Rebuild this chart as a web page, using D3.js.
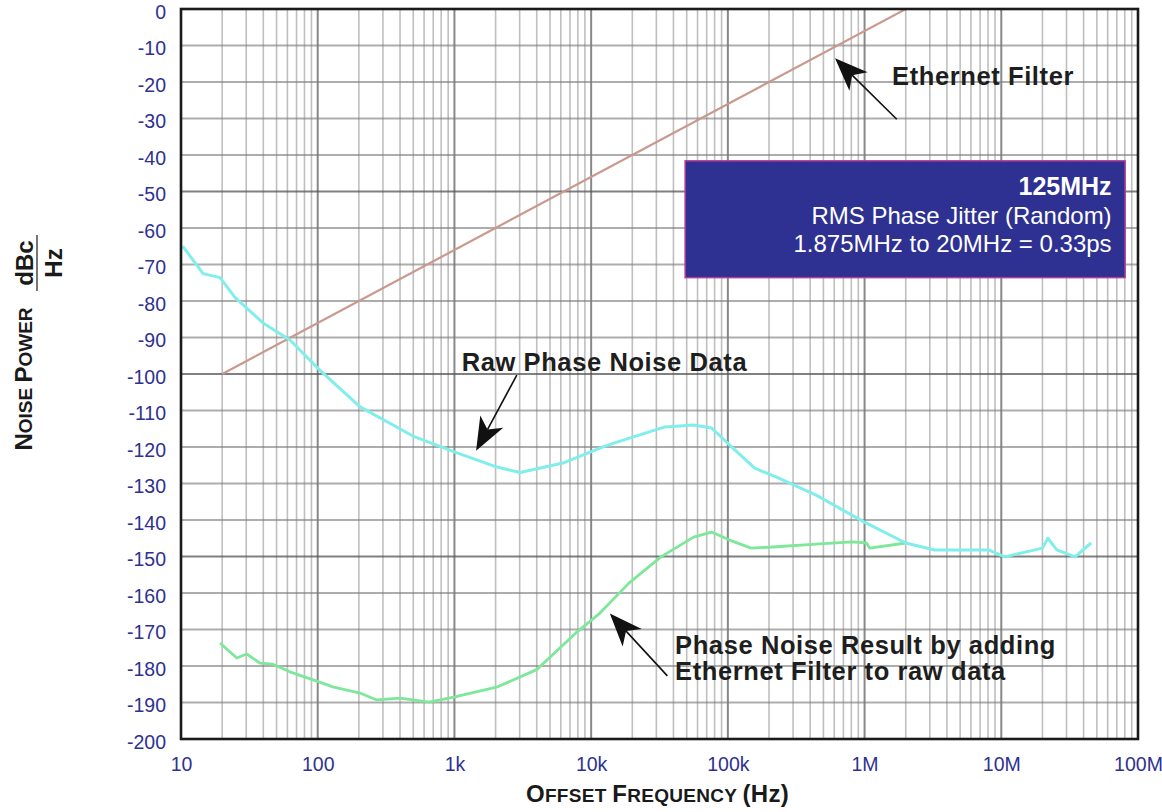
<!DOCTYPE html>
<html>
<head>
<meta charset="utf-8">
<script src="https://cdn.jsdelivr.net/npm/d3@7/dist/d3.min.js"></script>
<style>
    html, body { margin: 0; padding: 0; background: #fff; }
    svg { display: block; font-family: "Liberation Sans", Arial, Helvetica, sans-serif; }
</style>
</head>
<body>
<div id="chart"></div>
<script>
"use strict";

// raw phase noise (cyan)
const rawFreq = [10.3, 14.5, 19.3, 24.8, 39.8, 62.7, 104, 204, 497, 1045, 2049, 3020, 6220,
                 11600, 14450, 34700, 56100, 76000, 109000, 157000, 225000, 442000, 991000,
                 2.0e6, 3.25e6, 8.07e6, 10.6e6, 20e6, 21.9e6, 25.5e6, 34.6e6, 45.4e6];
const rawDb = [-65, -72.5, -73.6, -79, -86, -90.7, -99, -109, -117, -121.6, -125.5, -127, -124.4,
               -120.3, -119, -114.5, -114, -114.8, -120.3, -125.8, -128.2, -133.2, -140.5,
               -146.3, -148.2, -148.2, -150.1, -147.7, -145, -148.2, -150.1, -146.3];

// result after adding ethernet filter (green)
const resultFreq = [19.3, 25.6, 30.2, 37.8, 47, 62.6, 92.6, 129, 204, 270, 400, 651, 988, 2070,
                    3990, 7700, 11600, 18900, 32400, 56100, 76000, 103000, 148000, 213000,
                    440000, 807000, 1.03e6, 1.09e6, 2.0e6];
const resultDb = [-173.7, -177.8, -176.7, -179.2, -179.5, -181.6, -183.8, -185.7, -187.4, -189.3,
                  -188.8, -189.9, -188.5, -185.7, -181, -171, -165.5, -157.3, -150.1, -144.7,
                  -143.3, -145.5, -147.7, -147.4, -146.6, -146, -146.3, -147.7, -146.3];

// ethernet filter mask
const filterFreq = [20, 2e6, 2.2e7];
const filterDb = [-100, 0, 0];

const xTickValues = [10, 100, 1e3, 1e4, 1e5, 1e6, 1e7, 1e8];
const xTickLabels = ["10", "100", "1k", "10k", "100k", "1M", "10M", "100M"];
const yTickValues = [0, -10, -20, -30, -40, -50, -60, -70, -80, -90, -100, -110, -120, -130,
                     -140, -150, -160, -170, -180, -190, -200];
const yTickLabels = yTickValues.map(String);

// annotations, in data units: [freq, dB]
const notes = [
    {lines: ["Ethernet Filter"], at: [1.59e6, -20.8], tip: [6.08e5, -13.5], tail: [1.72e6, -30.2]},
    {lines: ["Raw Phase Noise Data"], at: [1130, -99.1], tip: [1440, -121], tail: [2860, -100.3]},
    {lines: ["Phase Noise Result by adding", "Ethernet Filter to raw data"], at: [41100, -176.8],
     tip: [13700, -165.6], tail: [36100, -182.7]}
];
const boxLines = ["125MHz", "RMS Phase Jitter (Random)", "1.875MHz to 20MHz = 0.33ps"];
const boxCorners = [[48700, -41.6], [80.5e6, -73.6]];

const drawChart = () => {
    const W = 1162, H = 812;
    const margin = {top: 9, right: 24, bottom: 73, left: 181};
    const blue = "#2e3192";

    const x = d3.scaleLog().domain([10, 1e8]).range([margin.left, W - margin.right]);
    const y = d3.scaleLinear().domain([-200, 0]).range([H - margin.bottom, margin.top]);

    const svg = d3.select("#chart").append("svg")
                  .attr("width", W)
                  .attr("height", H);

    // grid
    const minorX = [];
    for (let d = 10; d < 1e8; d *= 10) {
        for (let k = 2; k <= 9; k++) minorX.push(d * k);
    }
    const grid = svg.append("g").attr("class", "grid");
    grid.selectAll("line.vminor").data(minorX).enter().append("line")
        .attr("x1", d => x(d)).attr("x2", d => x(d))
        .attr("y1", y(0)).attr("y2", y(-200))
        .attr("stroke", "#8a8a8a").attr("stroke-opacity", 0.55).attr("stroke-width", 1.6);
    grid.selectAll("line.vmajor").data(xTickValues).enter().append("line")
        .attr("x1", d => x(d)).attr("x2", d => x(d))
        .attr("y1", y(0)).attr("y2", y(-200))
        .attr("stroke", "#555").attr("stroke-opacity", 0.7).attr("stroke-width", 2);
    grid.selectAll("line.h").data(yTickValues).enter().append("line")
        .attr("x1", x(10)).attr("x2", x(1e8))
        .attr("y1", d => y(d)).attr("y2", d => y(d))
        .attr("stroke", d => d % 50 === 0 ? "#555" : "#7a7a7a")
        .attr("stroke-opacity", d => d % 50 === 0 ? 0.75 : 0.62)
        .attr("stroke-width", 1.8);

    // series
    const line = d3.line().x(d => x(d[0])).y(d => y(d[1]));
    const zip = (a, b) => a.map((v, i) => [v, b[i]]);

    svg.append("path").datum(zip(filterFreq, filterDb))
       .attr("d", line).attr("fill", "none")
       .attr("stroke", "#c9998d").attr("stroke-width", 2.2);
    svg.append("path").datum(zip(resultFreq, resultDb))
       .attr("d", line).attr("fill", "none")
       .attr("stroke", "#7de79a").attr("stroke-width", 2.8).attr("stroke-linejoin", "round");
    svg.append("path").datum(zip(rawFreq, rawDb))
       .attr("d", line).attr("fill", "none")
       .attr("stroke", "#80eeea").attr("stroke-width", 3).attr("stroke-linejoin", "round");

    // frame
    svg.append("rect")
       .attr("x", x(10)).attr("y", y(0))
       .attr("width", x(1e8) - x(10)).attr("height", y(-200) - y(0))
       .attr("fill", "none").attr("stroke", "#1a1a1a").attr("stroke-width", 2.6);

    // axes
    const yAxis = svg.append("g")
                     .attr("transform", `translate(${margin.left}, 3)`)
                     .call(d3.axisLeft(y).tickValues(yTickValues)
                             .tickFormat((d, i) => yTickLabels[i])
                             .tickSize(0).tickPadding(15));
    yAxis.select(".domain").remove();
    yAxis.selectAll("text")
         .attr("fill", blue).attr("font-size", 19.5)
         .attr("font-family", "Liberation Sans, Arial, sans-serif");

    const xAxis = svg.append("g")
                     .attr("transform", `translate(0, ${H - margin.bottom})`)
                     .call(d3.axisBottom(x).tickValues(xTickValues)
                             .tickFormat((d, i) => xTickLabels[i])
                             .tickSize(0).tickPadding(18));
    xAxis.select(".domain").remove();
    xAxis.selectAll("text")
         .attr("fill", blue).attr("font-size", 19.5)
         .attr("font-family", "Liberation Sans, Arial, sans-serif");

    // axis titles in small caps
    const smallCaps = (sel, parts) => {
        parts.forEach(p => {
            sel.append("tspan").attr("font-size", p[1]).text(p[0]);
        });
    };
    const xt = svg.append("text")
                  .attr("x", (x(10) + x(1e8)) / 2 - 2).attr("y", 802)
                  .attr("text-anchor", "middle").attr("font-weight", "bold").attr("fill", "#1a1a1a")
                  .attr("letter-spacing", 0.3);
    smallCaps(xt, [["O", 24], ["FFSET ", 19], ["F", 24], ["REQUENCY ", 19], ["(Hz)", 24]]);

    const yt = svg.append("text")
                  .attr("transform", "translate(32, 379) rotate(-90)")
                  .attr("text-anchor", "middle").attr("font-weight", "bold").attr("fill", "#1a1a1a");
    smallCaps(yt, [["N", 24], ["OISE ", 19], ["P", 24], ["OWER", 19]]);

    svg.append("text").attr("transform", "translate(33, 263) rotate(-90)")
       .attr("text-anchor", "middle").attr("font-weight", "bold").attr("font-size", 24)
       .attr("fill", "#1a1a1a").text("dBc");
    svg.append("line").attr("x1", 37).attr("x2", 37).attr("y1", 235).attr("y2", 291)
       .attr("stroke", "#1a1a1a").attr("stroke-width", 1.2);
    svg.append("text").attr("transform", "translate(61.5, 263) rotate(-90)")
       .attr("text-anchor", "middle").attr("font-weight", "bold").attr("font-size", 24)
       .attr("fill", "#1a1a1a").text("Hz");

    // jitter box
    const bx0 = x(boxCorners[0][0]), by0 = y(boxCorners[0][1]);
    const bx1 = x(boxCorners[1][0]), by1 = y(boxCorners[1][1]);
    svg.append("rect")
       .attr("x", bx0).attr("y", by0).attr("width", bx1 - bx0).attr("height", by1 - by0)
       .attr("fill", blue).attr("stroke", "#b23c92").attr("stroke-width", 1.5);
    const boxText = svg.append("g").attr("fill", "#fff").attr("text-anchor", "end");
    boxText.selectAll("text").data(boxLines).enter().append("text")
           .attr("x", bx1 - 13.5)
           .attr("y", (d, i) => by0 + 34.5 + i * 29 + (i === 2 ? -1.5 : 0))
           .attr("font-size", (d, i) => i === 0 ? 25 : 24)
           .attr("font-weight", (d, i) => i === 0 ? "bold" : "normal")
           .text(d => d);

    // annotations with arrows
    const ann = svg.append("g").attr("class", "notes");
    notes.forEach(n => {
        const tx = x(n.tip[0]), ty = y(n.tip[1]);
        const sx = x(n.tail[0]), sy = y(n.tail[1]);
        const ang = Math.atan2(sy - ty, sx - tx);
        const len = 33, half = 13, notch = 24;
        const ux = Math.cos(ang), uy = Math.sin(ang);
        const px = -uy, py = ux;
        const pts = [
            [tx, ty],
            [tx + ux * len + px * half, ty + uy * len + py * half],
            [tx + ux * notch, ty + uy * notch],
            [tx + ux * len - px * half, ty + uy * len - py * half]
        ];
        ann.append("line")
           .attr("x1", tx + ux * notch).attr("y1", ty + uy * notch)
           .attr("x2", sx).attr("y2", sy)
           .attr("stroke", "#111").attr("stroke-width", 1.6);
        ann.append("path")
           .attr("d", "M" + pts.map(p => p.join(",")).join("L") + "Z")
           .attr("fill", "#111");
        const t = ann.append("text")
                     .attr("x", x(n.at[0])).attr("y", y(n.at[1]))
                     .attr("font-size", 25.5).attr("font-weight", "bold").attr("fill", "#1e1e1e")
                     .attr("letter-spacing", 0.6);
        n.lines.forEach((s, i) => {
            t.append("tspan").attr("x", x(n.at[0])).attr("dy", i === 0 ? 0 : 26).text(s);
        });
    });
};

drawChart();
</script>
</body>
</html>
